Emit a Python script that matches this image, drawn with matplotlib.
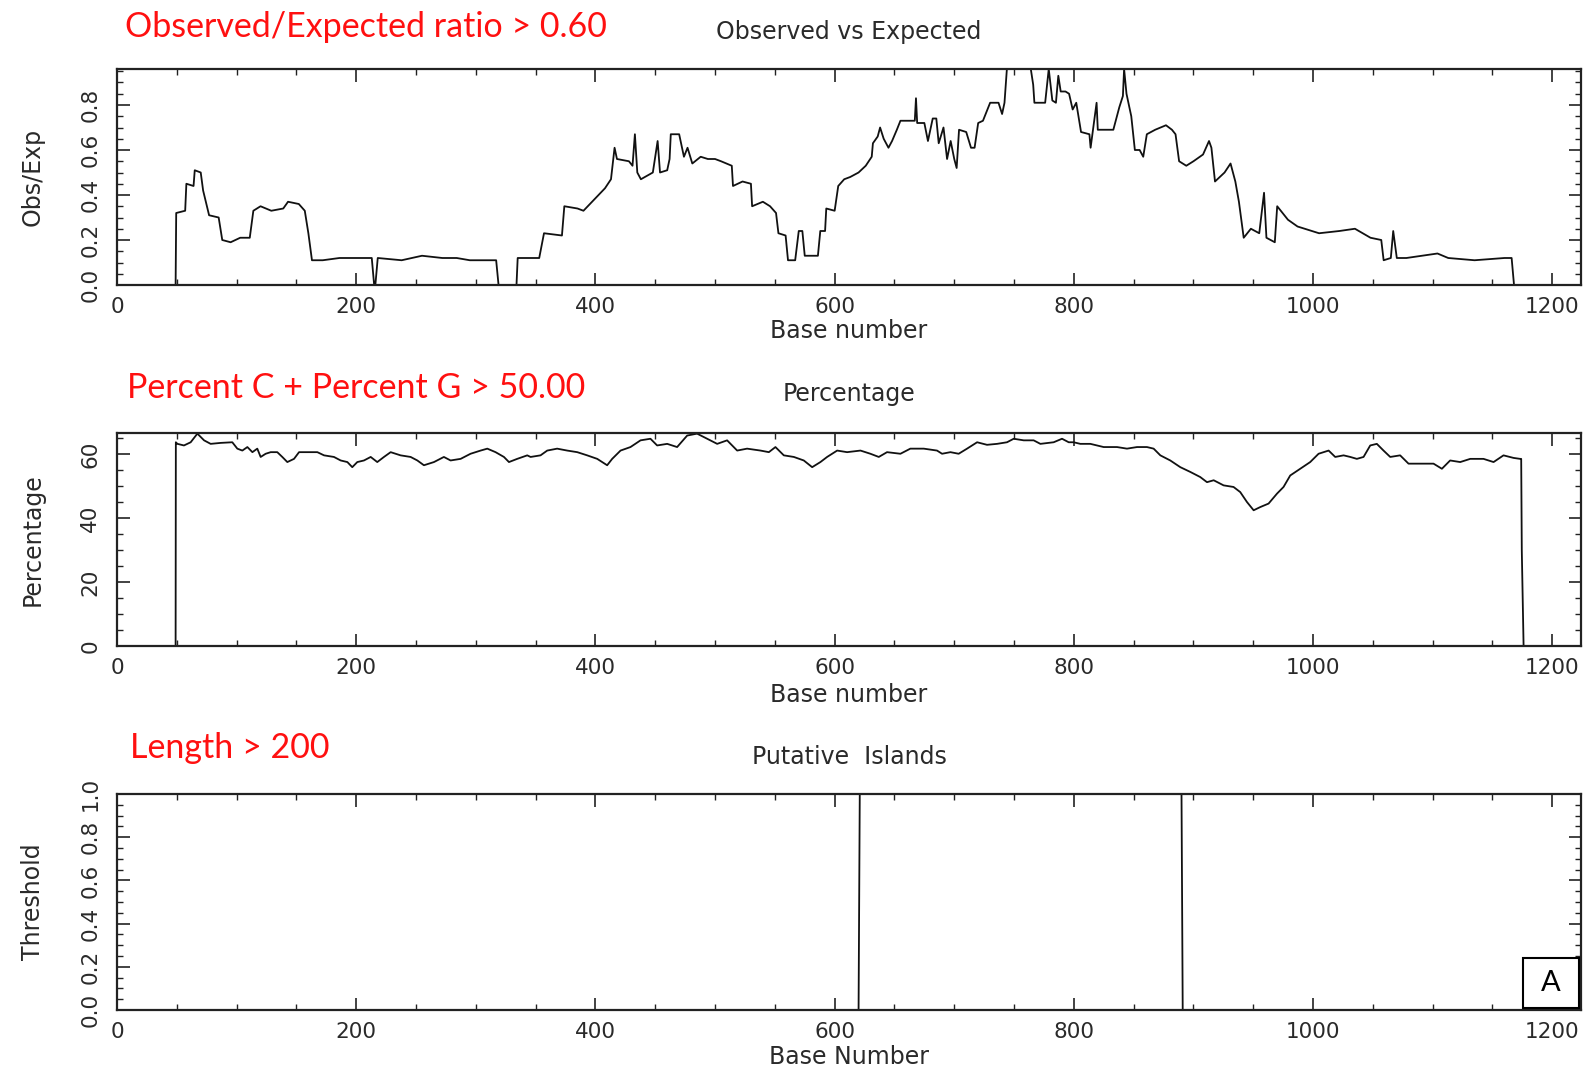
import matplotlib
matplotlib.use("Agg")
import matplotlib.pyplot as plt
from matplotlib.ticker import MultipleLocator, FormatStrFormatter
from matplotlib.patches import Rectangle

# Observed/Expected ratio (base number, ratio)
obs_base = [0, 49, 49.5, 57, 58, 64, 65, 70, 72, 77, 85, 88, 95, 103, 111, 114, 120, 129, 139,
            143, 152, 157, 160, 163, 172, 186, 198, 213, 215, 216, 218, 238, 255, 272, 284, 295,
            317, 319, 334, 335, 353, 357, 372, 374, 385, 390, 399, 408, 413, 416, 418, 428, 431,
            433, 435, 438, 448, 452, 454, 460, 462, 463, 470, 474, 477, 481, 488, 494, 500, 505,
            514, 515, 523, 530, 531, 540, 546, 551, 553, 559, 561, 567, 570, 573, 575, 586, 588,
            592, 593, 600, 603, 608, 613, 620, 626, 631, 632, 636, 638, 641, 645, 648, 652, 655,
            662, 667, 668, 669, 675, 678, 682, 685, 687, 691, 694, 697, 700, 702, 704, 710, 714,
            717, 720, 724, 727, 730, 737, 740, 742, 744, 764, 766, 767, 776, 779, 782, 785, 787,
            789, 793, 796, 799, 802, 806, 813, 814, 816, 819, 820, 833, 838, 841, 842, 844, 848,
            851, 855, 858, 861, 868, 877, 882, 885, 888, 894, 900, 908, 913, 915, 918, 926, 931,
            935, 938, 942, 948, 955, 959, 961, 968, 970, 979, 987, 1005, 1022, 1035, 1048, 1057,
            1059, 1065, 1067, 1070, 1078, 1104, 1113, 1135, 1160, 1166, 1168, 1224]
obs_ratio = [0, 0, 0.32, 0.33, 0.45, 0.44, 0.51, 0.50, 0.42, 0.31, 0.30, 0.20, 0.19, 0.21, 0.21,
             0.33, 0.35, 0.33, 0.34, 0.37, 0.36, 0.33, 0.23, 0.11, 0.11, 0.12, 0.12, 0.12, 0.0,
             0.0, 0.12, 0.11, 0.13, 0.12, 0.12, 0.11, 0.11, 0.0, 0.0, 0.12, 0.12, 0.23, 0.22,
             0.35, 0.34, 0.33, 0.38, 0.43, 0.47, 0.61, 0.56, 0.55, 0.53, 0.67, 0.50, 0.47, 0.50,
             0.64, 0.50, 0.51, 0.56, 0.67, 0.67, 0.57, 0.61, 0.54, 0.57, 0.56, 0.56, 0.55, 0.53,
             0.44, 0.46, 0.45, 0.35, 0.37, 0.35, 0.32, 0.23, 0.22, 0.11, 0.11, 0.24, 0.24, 0.13,
             0.13, 0.24, 0.24, 0.34, 0.33, 0.44, 0.47, 0.48, 0.50, 0.53, 0.57, 0.63, 0.66, 0.70,
             0.65, 0.61, 0.64, 0.69, 0.73, 0.73, 0.73, 0.83, 0.72, 0.72, 0.64, 0.74, 0.74, 0.63,
             0.70, 0.56, 0.64, 0.56, 0.52, 0.69, 0.68, 0.61, 0.61, 0.72, 0.73, 0.77, 0.81, 0.81,
             0.76, 0.81, 0.96, 0.96, 0.89, 0.81, 0.81, 0.96, 0.82, 0.81, 0.93, 0.86, 0.86, 0.85,
             0.78, 0.81, 0.68, 0.67, 0.61, 0.69, 0.81, 0.69, 0.69, 0.79, 0.84, 0.96, 0.85, 0.75,
             0.60, 0.60, 0.57, 0.67, 0.69, 0.71, 0.69, 0.67, 0.55, 0.53, 0.55, 0.58, 0.64, 0.61,
             0.46, 0.50, 0.54, 0.46, 0.37, 0.21, 0.25, 0.23, 0.41, 0.21, 0.19, 0.35, 0.29, 0.26,
             0.23, 0.24, 0.25, 0.21, 0.20, 0.11, 0.12, 0.24, 0.12, 0.12, 0.14, 0.12, 0.11, 0.12,
             0.12, 0.0, 0.0]

# Percent C + G (base number, percent)
pct_base = [0, 49, 49.2, 50.5, 56, 61.6, 67.2, 72.8, 78.3, 86.7, 96.4, 100.6, 104.8, 109, 113.2,
            117.3, 120.1, 124.3, 128.5, 134, 138.2, 142.4, 148, 152.2, 159.1, 167.5, 173.1, 181.4,
            187, 192.6, 196.7, 200.9, 206.5, 212.1, 217.6, 223.2, 228.8, 237.1, 245.5, 251.1,
            256.6, 265, 273.3, 278.9, 287.3, 295.6, 304, 309.6, 316.5, 323.5, 327.7, 334.6, 343,
            345.8, 354.1, 359.7, 368, 376.4, 384.8, 393.1, 401.5, 409.8, 414, 421, 429.3, 437.7,
            446, 451.6, 460, 468.3, 476.7, 485, 493.4, 501.8, 510.1, 518.5, 526.8, 538, 545, 550.5,
            557.5, 565.9, 574.2, 581.2, 588.1, 593.7, 602.1, 610.4, 621.6, 629.9, 636.9, 643.8,
            655, 663.3, 674.5, 685.6, 689.8, 696.8, 703.7, 710.7, 719.1, 727.4, 735.8, 744.1,
            749.7, 758.1, 766.4, 772, 783.1, 790.1, 795.7, 799.8, 805.4, 813.8, 824.9, 836.1,
            844.4, 852.8, 861.1, 866.7, 872.3, 880.6, 889, 897.4, 905.7, 911.3, 916.9, 925.2,
            933.5, 939.1, 944.7, 950.3, 955.8, 962.8, 969.8, 975.3, 980.9, 989.3, 997.6, 1004.6,
            1013, 1018.5, 1025.5, 1031.1, 1036.6, 1042.2, 1047.8, 1053.3, 1058.9, 1064.5, 1072.8,
            1079.8, 1089.6, 1100.7, 1107.7, 1114.6, 1123, 1131.4, 1142.5, 1150.9, 1159.2, 1167.6,
            1173.1, 1174, 1174.5, 1176, 1224]
pct_gc = [0, 0, 63.8, 63.3, 62.8, 63.8, 66.5, 64.4, 63.3, 63.6, 63.8, 61.8, 61.2, 62.3, 60.7,
          61.8, 59.2, 60.2, 60.7, 60.7, 59.2, 57.6, 58.6, 60.7, 60.7, 60.7, 59.7, 59.2, 58.1,
          57.6, 56.0, 57.6, 58.1, 59.2, 57.6, 59.2, 60.7, 59.7, 59.2, 58.1, 56.6, 57.6, 59.2,
          58.1, 58.6, 60.2, 61.2, 61.8, 60.7, 59.2, 57.6, 58.6, 59.7, 59.2, 59.7, 61.2, 61.8,
          61.2, 60.7, 59.7, 58.6, 56.6, 58.6, 61.2, 62.3, 64.4, 64.9, 62.8, 63.3, 62.3, 65.9,
          66.5, 64.9, 63.3, 64.4, 61.2, 61.8, 61.2, 60.7, 62.3, 59.7, 59.2, 58.1, 56.0, 57.6,
          59.2, 61.2, 60.7, 61.2, 60.2, 59.2, 60.7, 60.2, 61.8, 61.8, 61.2, 60.2, 60.7, 60.2,
          61.8, 63.8, 63.0, 63.3, 63.8, 64.9, 64.4, 64.4, 63.3, 63.8, 64.9, 63.8, 63.8, 63.3,
          63.3, 62.3, 62.3, 61.8, 62.3, 62.3, 61.8, 59.7, 58.1, 56.0, 54.5, 52.9, 51.3, 51.9,
          50.3, 49.8, 48.2, 45.1, 42.5, 43.5, 44.6, 47.7, 49.8, 53.4, 55.5, 57.6, 60.2, 61.2,
          59.2, 59.7, 59.2, 58.6, 59.2, 62.8, 63.3, 61.2, 59.2, 59.7, 57.1, 57.1, 57.1, 55.5,
          58.1, 57.6, 58.6, 58.6, 57.6, 59.7, 58.9, 58.6, 58.6, 29.9, 0, 0]

# Putative islands (base number, flag)
isl_base = [0, 620, 621, 890, 891, 1224]
isl_flag = [0, 0, 1, 1, 0, 0]

W, H = 1592, 1073
fig = plt.figure(figsize=(W / 100, H / 100), dpi=100)

hfont = "DejaVu Sans"
tcol = "#2a2a2a"
red_font = ["Lato", "DejaVu Sans"]


def box(top, bottom, left=117, right=1581):
    return [left / W, 1 - bottom / H, (right - left) / W, (bottom - top) / H]


def style(ax, ylim, ymaj, ymin, ylabel, xlabel, xlab_y, title, title_y):
    ax.set_xlim(0, 1224)
    ax.set_ylim(*ylim)
    ax.xaxis.set_major_locator(MultipleLocator(200))
    ax.xaxis.set_minor_locator(MultipleLocator(50))
    ax.yaxis.set_major_locator(MultipleLocator(ymaj))
    ax.yaxis.set_minor_locator(MultipleLocator(ymin))
    ax.tick_params(which="both", direction="in", top=True, right=True, colors="#222",
                   labelcolor=tcol, labelsize=15.5)
    ax.tick_params(which="major", length=9, width=1.2)
    ax.tick_params(which="minor", length=4.5, width=1.0)
    ax.tick_params(axis="x", which="major", pad=8.5)
    ax.tick_params(axis="y", which="major", pad=12)
    for s in ax.spines.values():
        s.set_linewidth(1.6)
        s.set_color("#222")
    ax.set_ylabel(ylabel, fontsize=17, color=tcol, family=hfont)
    ax.yaxis.set_label_coords((33 - 117) / 1464, 0.5)
    ax.yaxis.label.set_va("center")
    ax.set_xlabel(xlabel, fontsize=17, color=tcol, family=hfont)
    ax.xaxis.set_label_coords(0.5, xlab_y)
    ax.xaxis.label.set_va("center")
    fig.text(849 / W, 1 - title_y / H, title, fontsize=17, color=tcol, family=hfont,
             ha="center", va="center")


ax1 = fig.add_axes(box(69, 285))
ax1.plot(obs_base, obs_ratio, color="#111", lw=1.3)
ax1.yaxis.set_major_formatter(FormatStrFormatter("%.1f"))
style(ax1, (0, 0.96), 0.2, 0.05, "Obs/Exp", "Base number", -0.213,
      "Observed vs Expected", 31.5)

ax2 = fig.add_axes(box(433, 646))
ax2.plot(pct_base, pct_gc, color="#111", lw=1.3)
style(ax2, (0, 66.7), 20, 5, "Percentage", "Base number", -0.228, "Percentage", 394)

ax3 = fig.add_axes(box(794, 1010))
ax3.plot(isl_base, isl_flag, color="#111", lw=1.3)
ax3.yaxis.set_major_formatter(FormatStrFormatter("%.1f"))
style(ax3, (0, 1.0), 0.2, 0.05, "Threshold", "Base Number", -0.218, "Putative  Islands", 757)

for ax in (ax1, ax2, ax3):
    for lab in ax.get_yticklabels():
        lab.set_rotation(90)
        lab.set_va("center")

fig.text(125 / W, 1 - 27 / H, "Observed/Expected ratio > 0.60", color="#ff1010",
         fontsize=24.5, family=red_font, va="center", ha="left")
fig.text(127 / W, 1 - 388 / H, "Percent C + Percent G > 50.00", color="#ff1010",
         fontsize=24.5, family=red_font, va="center", ha="left")
fig.text(130 / W, 1 - 748 / H, "Length > 200", color="#ff1010",
         fontsize=24.5, family=red_font, va="center", ha="left")

fig.patches.append(Rectangle((1523 / W, 1 - 1008 / H), 56 / W, 50 / H, transform=fig.transFigure,
                             fill=True, facecolor="white", edgecolor="black", lw=1.5))
fig.text(1551 / W, 1 - 983 / H, "A", fontsize=21, family=red_font, ha="center", va="center",
         color="black")

fig.savefig("out.png", dpi=100)
